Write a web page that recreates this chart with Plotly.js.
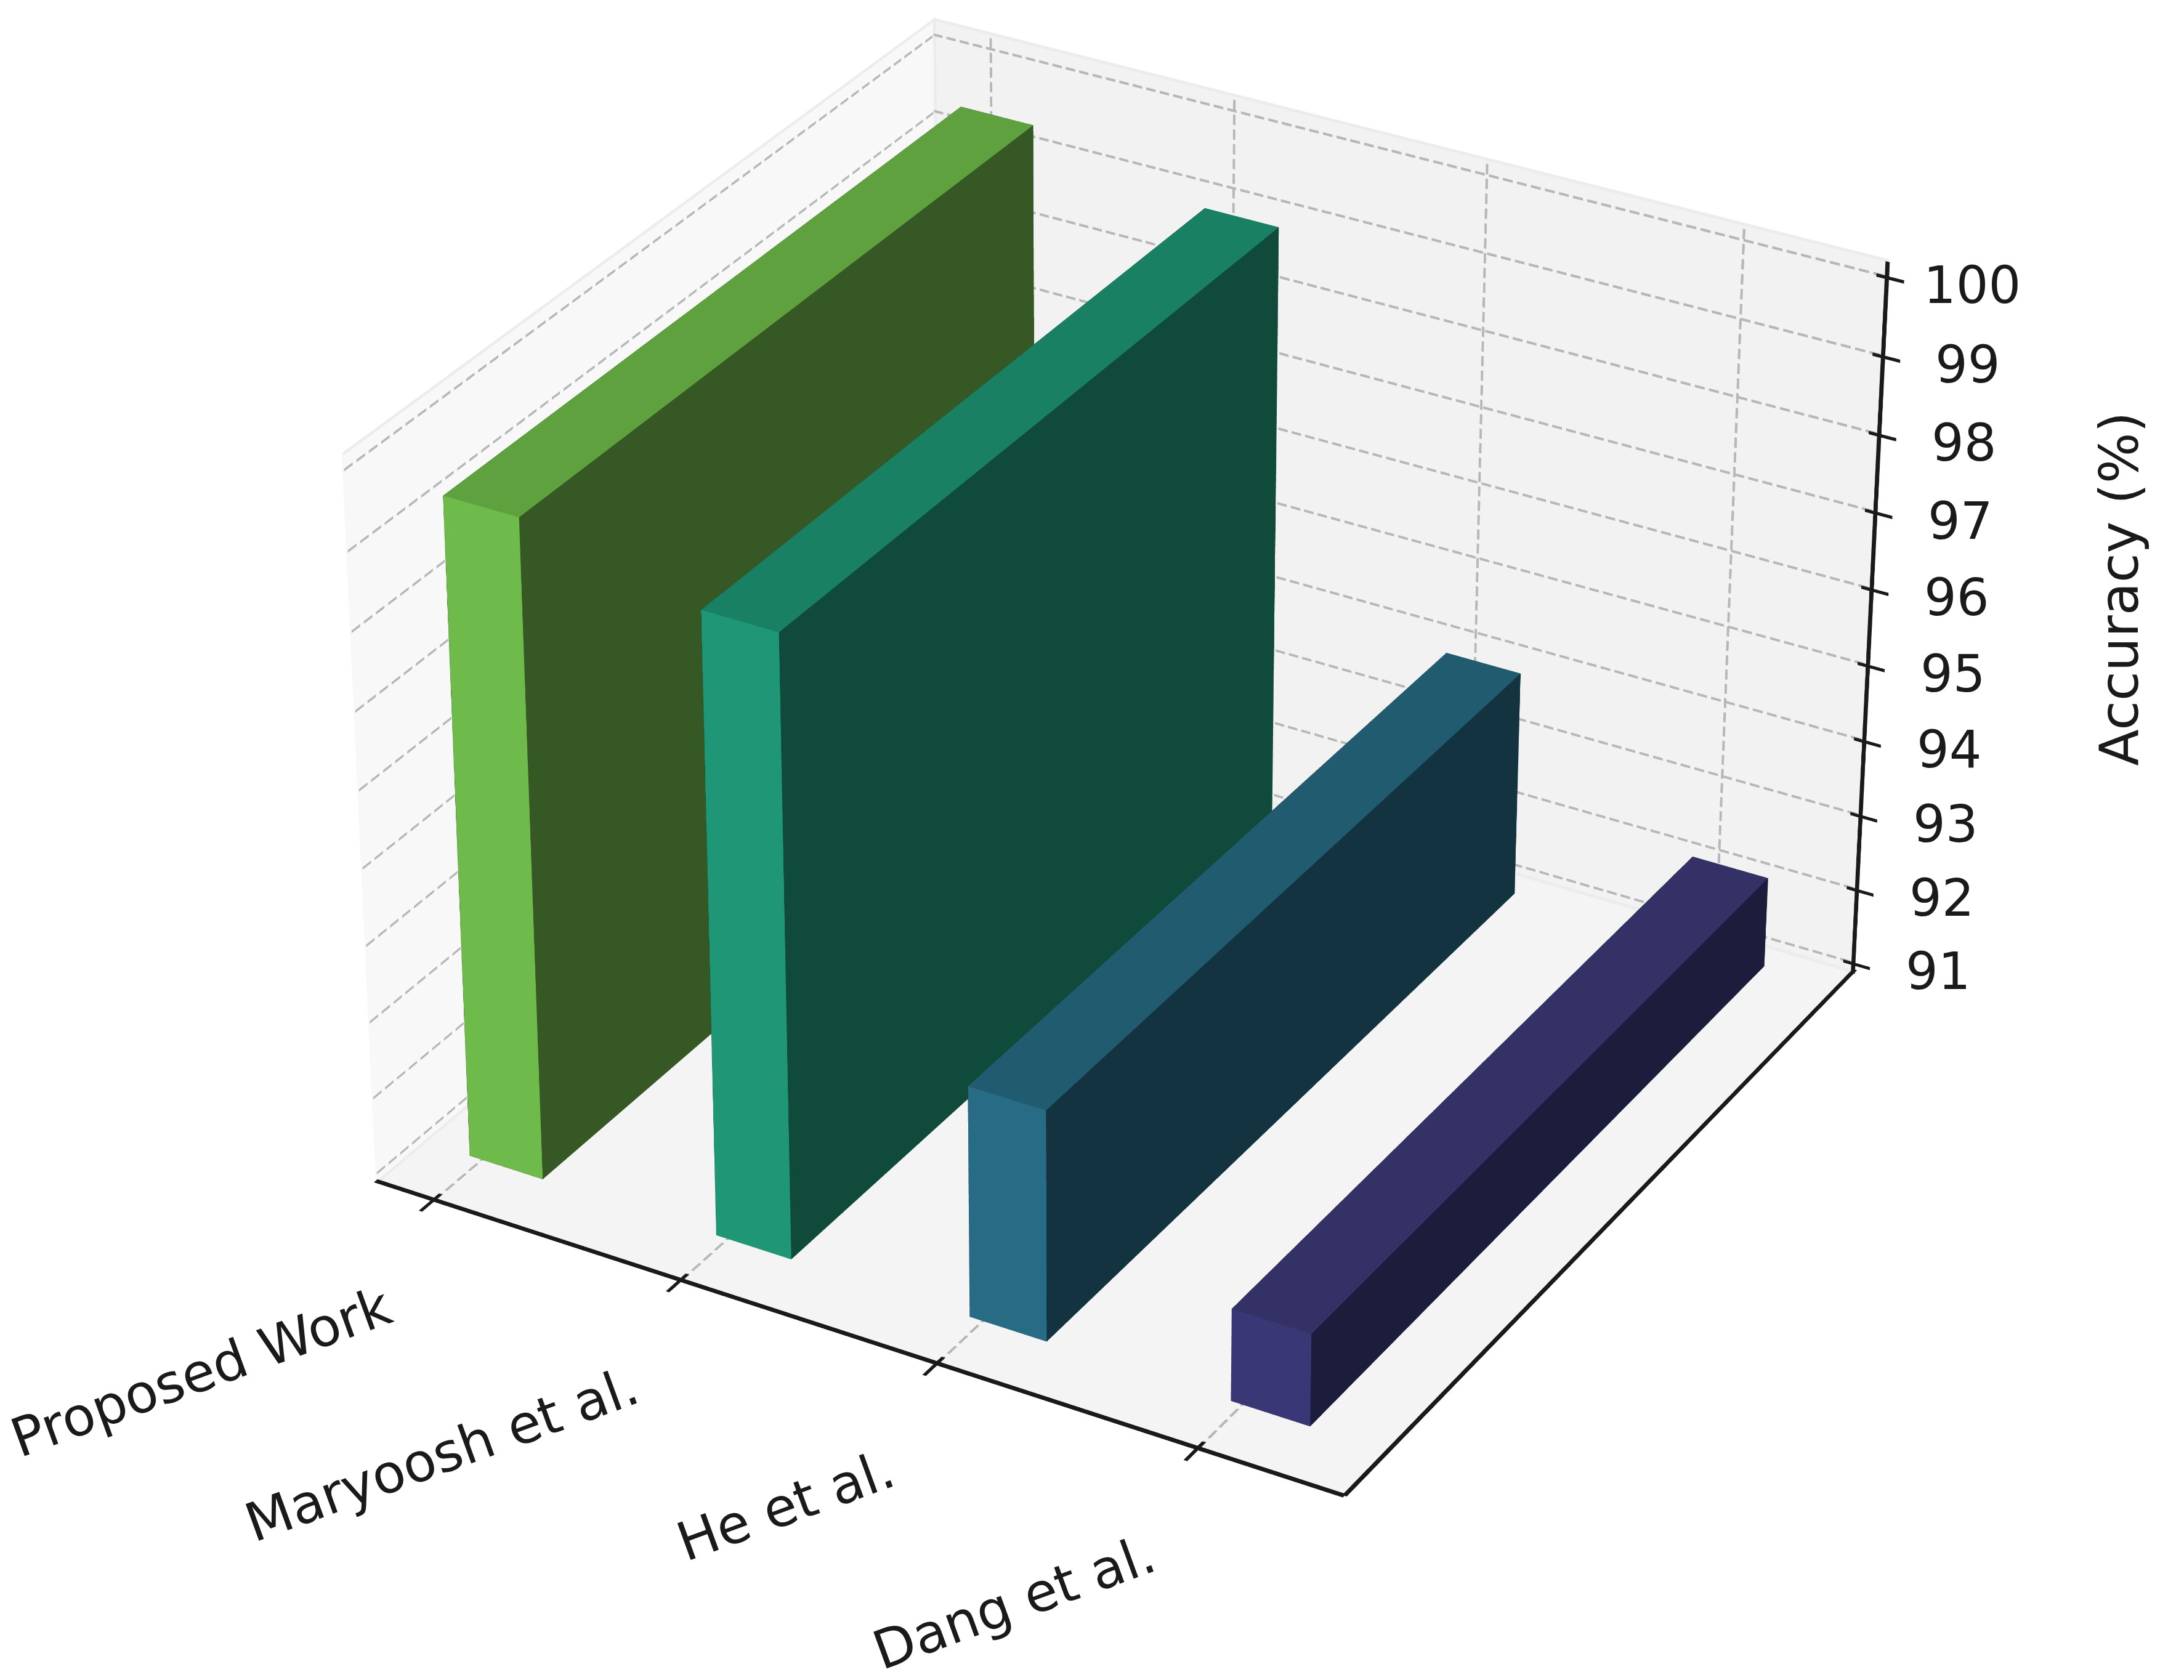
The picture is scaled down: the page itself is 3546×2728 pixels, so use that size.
<!DOCTYPE html>
<html>
<head>
<meta charset="utf-8">
<script src="https://cdn.plot.ly/plotly-3.0.1.min.js"></script>
<style>html,body{margin:0;padding:0;background:#fff}</style>
</head>
<body>
<div id="chart" style="width:3546px;height:2728px"></div>
<script>
// Accuracy comparison, 3D bars
const categories = ['Proposed Work', 'Maryoosh et al.', 'He et al.', 'Dang et al.'];
const accuracy = [99.42, 98.92, 93.92, 92.12];
const barStart = [0, 1.004, 2.008, 3.015];
const xTicks = [0.04, 1.04, 2.05, 3.05];
const zTicks = [91, 92, 93, 94, 95, 96, 97, 98, 99, 100];

const frontColors = ['#6EBA4A', '#1F9777', '#276C84', '#3A3776'];
const topColors = ['#5EA13E', '#1A8063', '#215B70', '#333165'];
const sideColors = ['#365824', '#0F4A3A', '#133340', '#1C1C3C'];

const xRange = [-0.2, 3.6];
const yRange = [0, 1];
const zRange = [90.87, 100.2];
const barWidth = 0.3;
const barY = [0.075, 0.96];
const barBase = 90.92;

const ink = '#1a1a1a';
const gridColor = '#b7b7b7';
const edgeColor = '#ececec';
const tickFont = { family: 'DejaVu Sans', size: 83, color: ink };
const labelFont = { family: 'DejaVu Sans', size: 87, color: ink };
const flat = { ambient: 1, diffuse: 0, specular: 0, roughness: 1, fresnel: 0 };

function barMesh(i) {
    const x0 = barStart[i], x1 = x0 + barWidth;
    const y0 = barY[0], y1 = barY[1];
    const z0 = barBase, z1 = accuracy[i];
    const f = frontColors[i], t = topColors[i], s = sideColors[i];
    return {
        type: 'mesh3d',
        x: [x0, x1, x1, x0, x0, x1, x1, x0],
        y: [y0, y0, y1, y1, y0, y0, y1, y1],
        z: [z0, z0, z0, z0, z1, z1, z1, z1],
        i: [0, 0, 4, 4, 0, 0, 1, 1, 2, 2, 3, 3],
        j: [1, 2, 5, 6, 1, 5, 2, 6, 3, 7, 0, 4],
        k: [2, 3, 6, 7, 5, 4, 6, 5, 7, 6, 4, 7],
        facecolor: [s, s, t, t, f, f, s, s, s, s, s, s],
        flatshading: true,
        lighting: flat,
        hoverinfo: 'skip',
        showscale: false
    };
}

// gl lines stay 1px wide here, so lines are thin quads collected in one mesh
function lineMesh(color) {
    return { type: 'mesh3d', x: [], y: [], z: [], i: [], j: [], k: [], color: color,
             flatshading: true, lighting: flat, hoverinfo: 'skip', showscale: false };
}
function addQuad(m, a, b, w) {
    const n = m.x.length;
    [[a, -1], [b, -1], [b, 1], [a, 1]].forEach(p => {
        m.x.push(p[0][0] + p[1] * w[0]);
        m.y.push(p[0][1] + p[1] * w[1]);
        m.z.push(p[0][2] + p[1] * w[2]);
    });
    m.i.push(n, n); m.j.push(n + 1, n + 2); m.k.push(n + 2, n + 3);
}
function addDashed(m, a, b, w, count) {
    const at = (t) => [0, 1, 2].map(d => a[d] + (b[d] - a[d]) * t);
    for (let c = 0; c < count; c++) {
        addQuad(m, at(c / count), at((c + 0.7) / count), w);
    }
}

const [x0, x1] = xRange, [y0, y1] = yRange, [z0, z1] = zRange;
const xMid = (x0 + x1) / 2, yMid = (y0 + y1) / 2;
const onBack = y1 - 0.002, onLeft = x0 + 0.006, onFloor = z0 + 0.012;
const axisBack = y1 - 0.004, axisFloor = z0 + 0.024;

// panes are drawn as quads too, the scene box is padded so ticks outside it are not clipped
const leftPane = lineMesh('#f8f8f8');
addQuad(leftPane, [x0, yMid, z0], [x0, yMid, z1], [0, (y1 - y0) / 2, 0]);
const backPane = lineMesh('#f2f2f2');
addQuad(backPane, [xMid, y1, z0], [xMid, y1, z1], [(x1 - x0) / 2, 0, 0]);
const floorPane = lineMesh('#f4f4f4');
addQuad(floorPane, [x0, yMid, z0], [x1, yMid, z0], [0, (y1 - y0) / 2, 0]);

const grid = lineMesh(gridColor);
xTicks.forEach(x => {
    addDashed(grid, [x, y0, onFloor], [x, y1, onFloor], [0.0052, 0, 0], 52);
    addDashed(grid, [x, onBack, z0], [x, onBack, z1], [0.0048, 0, 0], 49);
});
zTicks.forEach(z => {
    addDashed(grid, [x0, onBack, z], [x1, onBack, z], [0, 0, 0.0167], 69);
    addDashed(grid, [onLeft, y0, z], [onLeft, y1, z], [0, 0, 0.0167], 52);
});

// faint pane borders
const edges = lineMesh(edgeColor);
addQuad(edges, [x0, onBack, z1], [x1, onBack, z1], [0, 0, 0.02]);
addQuad(edges, [onLeft, y0, z1], [onLeft, y1, z1], [0, 0, 0.02]);
addQuad(edges, [x0 + 0.006, onBack, z0], [x0 + 0.006, onBack, z1], [0.006, 0, 0]);
addQuad(edges, [x0, onBack, onFloor], [x1, onBack, onFloor], [0, 0.003, 0]);
addQuad(edges, [onLeft, y0, onFloor], [onLeft, y1, onFloor], [0.006, 0, 0]);

const axes = lineMesh(ink);
addQuad(axes, [x0, y0, axisFloor], [x1, y0, axisFloor], [0, 0.003, 0]);
addQuad(axes, [x1, y0, axisFloor], [x1, y1, axisFloor], [0.0086, 0, 0]);
addQuad(axes, [x1, axisBack, z0], [x1, axisBack, z1], [0.008, 0, 0]);
xTicks.forEach(x => addQuad(axes, [x, y0 - 0.022, axisFloor], [x, y0 + 0.011, axisFloor], [0.007, 0, 0]));
zTicks.forEach(z => addQuad(axes, [x1 - 0.04, axisBack, z], [x1 + 0.065, axisBack, z], [0, 0, 0.021]));

const traces = [leftPane, backPane, floorPane, edges, grid, axes];
categories.forEach((c, i) => traces.push(barMesh(i)));

const annotations = [];
categories.forEach((c, i) => annotations.push({
    x: xTicks[i], y: y0, z: z0, text: c, showarrow: false,
    textangle: -20, xanchor: 'right', yanchor: 'top', xshift: -53, yshift: -115, font: labelFont
}));
zTicks.forEach(z => annotations.push({
    x: x1, y: y1, z: z, text: String(z), showarrow: false,
    xanchor: 'center', yanchor: 'middle', xshift: 135, yshift: -16, font: tickFont
}));
annotations.push({
    x: x1, y: y1, z: 95.5, text: 'Accuracy (%)', showarrow: false,
    textangle: -90, xanchor: 'center', yanchor: 'middle', xshift: 402, yshift: 61, font: labelFont
});

function axis(range, pad) {
    return {
        range: [range[0] - pad, range[1] + pad], autorange: false, showgrid: false, zeroline: false, showline: false,
        showticklabels: false, ticks: '', title: { text: '' },
        showbackground: false, showspikes: false
    };
}

const pad = { x: 0.2, y: 0.06, z: 0.2 };
const layout = {
    width: 3546, height: 2728,
    margin: { l: 0, r: 0, t: 0, b: 0 },
    paper_bgcolor: '#ffffff',
    showlegend: false,
    scene: {
        domain: { x: [0, 1], y: [0, 1] },
        aspectmode: 'manual',
        aspectratio: {
            x: 1 * (x1 - x0 + 2 * pad.x) / (x1 - x0),
            y: 1 * (y1 - y0 + 2 * pad.y) / (y1 - y0),
            z: 0.75 * (z1 - z0 + 2 * pad.z) / (z1 - z0)
        },
        camera: {
            projection: { type: 'perspective' },
            eye: { x: 3.609, y: -6.321, z: 4.197 },
            center: { x: -0.0029, y: -0.0629, z: -0.0912 },
            up: { x: 0, y: 0, z: 1 }
        },
        xaxis: axis(xRange, pad.x),
        yaxis: axis(yRange, pad.y),
        zaxis: axis(zRange, pad.z),
        annotations: annotations
    }
};

const chart = document.getElementById('chart');
Plotly.newPlot(chart, traces, layout, { displayModeBar: false }).then(() => {
    // the scene has a fixed 45 degree lens, a long lens keeps the perspective weak at this size
    const glplot = chart._fullLayout.scene._scene.glplot;
    glplot.fovy = 0.18;
    glplot.redraw();
});
</script>
</body>
</html>
